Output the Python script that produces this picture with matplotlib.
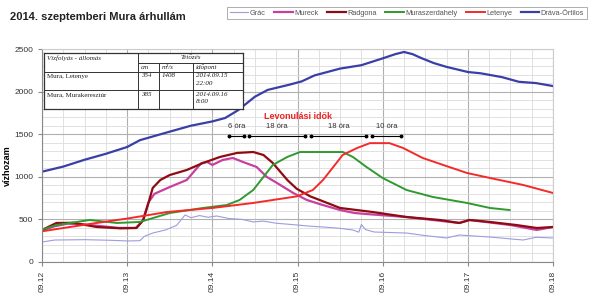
import matplotlib
matplotlib.use("Agg")
import matplotlib.pyplot as plt
from matplotlib.ticker import MultipleLocator

# ---------------- data (time in days from 2014.09.12 00:00) ----------------
grac_t = [0, 0.15, 0.5, 0.8, 1.0, 1.15, 1.2, 1.3, 1.45, 1.58, 1.68, 1.75, 1.85, 1.95, 2.05, 2.2,
          2.35, 2.48, 2.6, 2.75, 3.0, 3.15, 3.3, 3.5, 3.65, 3.72, 3.75, 3.8, 3.9, 4.28, 4.5, 4.75,
          4.9, 5.0, 5.26, 5.65, 5.8, 6.0]
grac_q = [235, 258, 262, 255, 247, 250, 300, 340, 376, 430, 552, 520, 545, 525, 540, 510,
          500, 470, 480, 455, 434, 420, 411, 395, 376, 350, 440, 380, 352, 340, 310, 282,
          317, 310, 293, 258, 290, 282]

mureck_t = [0, 0.15, 0.3, 0.5, 0.7, 0.9, 1.1, 1.18, 1.25, 1.32, 1.5, 1.7, 1.8, 1.87, 1.94, 2.0,
            2.12, 2.24, 2.36, 2.52, 2.64, 2.76, 2.95, 3.11, 3.26, 3.5, 3.67, 3.85, 4.28, 4.9,
            5.02, 5.5, 5.81, 6.0]
mureck_q = [370, 420, 450, 440, 420, 400, 400, 480, 700, 800, 880, 963, 1080, 1160, 1174, 1139,
            1197, 1221, 1174, 1115, 998, 927, 810, 728, 680, 610, 575, 560, 528, 458,
            493, 434, 376, 411]

radgona_t = [0, 0.17, 0.37, 0.64, 0.92, 1.11, 1.19, 1.25, 1.3, 1.39, 1.5, 1.7, 1.89, 2.09, 2.29,
             2.48, 2.6, 2.71, 2.88, 2.99, 3.15, 3.26, 3.5, 3.88, 4.28, 4.67, 4.9, 5.02, 5.26,
             5.57, 5.81, 6.0]
radgona_q = [376, 458, 460, 411, 395, 399, 493, 693, 869, 963, 1021, 1080, 1162, 1233, 1280,
             1291, 1256, 1162, 963, 860, 770, 728, 634, 587, 528, 493, 458, 493, 470,
             434, 399, 411]

mszd_t = [0, 0.17, 0.56, 0.88, 1.15, 1.5, 1.89, 2.17, 2.32, 2.48, 2.6, 2.71, 2.88, 3.03, 3.53,
          3.65, 3.81, 4.0, 4.28, 4.59, 4.99, 5.26, 5.49]
mszd_q = [380, 434, 493, 458, 470, 575, 634, 669, 728, 845, 998, 1139, 1233, 1291, 1291,
          1233, 1115, 986, 845, 763, 693, 634, 610]

letenye_t = [0, 0.25, 0.64, 1.0, 1.47, 2.0, 2.48, 2.99, 3.18, 3.3, 3.42, 3.53, 3.7, 3.85, 4.08,
             4.24, 4.47, 4.71, 4.99, 5.26, 5.65, 6.0]
letenye_q = [360, 399, 458, 510, 587, 634, 693, 770, 845, 963, 1115, 1256, 1338, 1395, 1395,
             1338, 1221, 1139, 1045, 986, 904, 810]

drava_t = [0, 0.25, 0.5, 0.75, 1.0, 1.15, 1.5, 1.75, 2.0, 2.15, 2.3, 2.5, 2.65, 2.9, 3.05, 3.2,
           3.5, 3.75, 4.0, 4.15, 4.25, 4.35, 4.45, 4.6, 4.75, 5.0, 5.15, 5.4, 5.6, 5.8, 6.0]
drava_q = [1060, 1120, 1200, 1270, 1350, 1430, 1530, 1600, 1650, 1690, 1780, 1940, 2020, 2080,
           2120, 2190, 2270, 2310, 2390, 2440, 2465, 2440, 2395, 2335, 2290, 2230, 2215, 2170,
           2115, 2100, 2065]

series_names = ["Grác", "Mureck", "Radgona", "Muraszerdahely", "Letenye", "Dráva-Örtilos"]
day_ticks = [0, 1, 2, 3, 4, 5, 6]
day_labels = ["09.12", "09.13", "09.14", "09.15", "09.16", "09.17", "09.18"]

# travel-time markers (days) and labels
travel_bounds = [(2.19, 2.375), (2.433, 3.09), (3.153, 3.81), (3.876, 4.214)]
travel_labels = ["6 óra", "18 óra", "18 óra", "10 óra"]
travel_level = 1480

table_rows = [
    ["Vízfolyás - állomás", "Tetőzés", "", ""],
    ["", "cm", "m³/s", "időpont"],
    ["Mura, Letenye", "354", "1408", "2014.09.15\n22:00"],
    ["Mura, Murakeresztúr", "385", "", "2014.09.16\n8:00"],
]

# ---------------- figure ----------------
plt.rcParams['font.family'] = ['Liberation Sans', 'DejaVu Sans']
W, H = 597, 296
fig = plt.figure(figsize=(W / 100, H / 100), dpi=100)
ax = fig.add_axes([42 / W, 1 - 262 / H, (553 - 42) / W, (262 - 49) / H])

colors = ["#9c9ce0", "#c8409f", "#8e0b12", "#2f9a2f", "#f42a2a", "#3a3fa8"]
widths = [0.8, 1.6, 1.6, 1.4, 1.4, 1.6]
data = [(grac_t, grac_q), (mureck_t, mureck_q), (radgona_t, radgona_q),
        (mszd_t, mszd_q), (letenye_t, letenye_q), (drava_t, drava_q)]
for (t, q), name, c, lw in zip(data, series_names, colors, widths):
    ax.plot(t, q, color=c, lw=lw, label=name)

ax.set_xlim(0, 6)
ax.set_ylim(0, 2500)
ax.set_xticks(day_ticks)
ax.set_xticklabels(day_labels, rotation=90, fontsize=6, color="#333333")
ax.xaxis.set_minor_locator(MultipleLocator(0.25))
ax.yaxis.set_major_locator(MultipleLocator(500))
ax.yaxis.set_minor_locator(MultipleLocator(100))
ax.tick_params(axis='y', labelsize=6, labelcolor="#333333", length=3, color="#888888")
ax.tick_params(axis='x', length=3, color="#888888")
ax.tick_params(which='minor', length=0)
ax.grid(which='major', color="#b0b0b0", lw=0.8)
ax.grid(which='minor', color="#dcdcdc", lw=0.6)
ax.set_axisbelow(True)
for s in ['top', 'right']:
    ax.spines[s].set_color("#cccccc")
    ax.spines[s].set_linewidth(0.8)
for s in ['left', 'bottom']:
    ax.spines[s].set_color("#888888")
    ax.spines[s].set_linewidth(0.8)

ax.set_ylabel("vízhozam", fontsize=6.5, fontweight='bold')
ax.yaxis.set_label_coords(-0.058, 0.45)

# travel-time annotation
ax.text(3.0, 1705, "Levonulási idők", color="#ee2222", fontsize=6.5, fontweight='bold',
        ha='center', va='center')
for (a, b), lab in zip(travel_bounds, travel_labels):
    ax.plot([a, b], [travel_level, travel_level], color="black", lw=0.8,
            marker='o', markersize=1.8)
    ax.text((a + b) / 2, travel_level + 115, lab, fontsize=5.5, color="#333333",
            ha='center', va='center')

# title
fig.text(10 / W, 1 - 17 / H, "2014. szeptemberi Mura árhullám", fontsize=8,
         fontweight='bold', color="#222222", va='center', ha='left')

# legend
leg = fig.legend(*ax.get_legend_handles_labels(), loc='upper left',
                 bbox_to_anchor=(227 / W, 1 - 7 / H), ncol=6, fontsize=5.3,
                 frameon=True, fancybox=False, handlelength=2.5, handletextpad=0.2,
                 columnspacing=1.2, borderpad=0.35, borderaxespad=0.0,
                 labelcolor="#555555")
leg.get_frame().set_edgecolor("#999999")
leg.get_frame().set_linewidth(0.7)

# inset table
tx0, ty0, tx1, ty1 = 44, 53, 243, 109
tax = fig.add_axes([tx0 / W, 1 - ty1 / H, (tx1 - tx0) / W, (ty1 - ty0) / H])
tax.set_xlim(tx0, tx1)
tax.set_ylim(ty1, ty0)
tax.set_facecolor("white")
for s in tax.spines.values():
    s.set_color("#333333")
    s.set_linewidth(0.9)
tax.set_xticks([])
tax.set_yticks([])
col_x = [tx0, 138, 159, 193, tx1]
row_y = [ty0, 63, 72, 90, ty1]
lk = dict(color="#333333", lw=0.7)
tax.plot([col_x[1], tx1], [row_y[1]] * 2, **lk)
tax.plot([tx0, tx1], [row_y[2]] * 2, **lk)
tax.plot([tx0, tx1], [row_y[3]] * 2, **lk)
tax.plot([col_x[1]] * 2, [ty0, ty1], **lk)
tax.plot([col_x[2]] * 2, [row_y[1], ty1], **lk)
tax.plot([col_x[3]] * 2, [row_y[1], ty1], **lk)
tf = dict(family=['Liberation Serif', 'DejaVu Serif'], fontsize=5, color="#222222")
tax.text(tx0 + 3, (row_y[0] + row_y[1]) / 2, table_rows[0][0], style='italic', va='center', **tf)
tax.text((col_x[1] + tx1) / 2, (row_y[0] + row_y[1]) / 2, table_rows[0][1], style='italic',
         va='center', ha='center', **tf)
for j in (1, 2, 3):
    tax.text(col_x[j] + 3, (row_y[1] + row_y[2]) / 2, table_rows[1][j], style='italic',
             va='center', **tf)
for i in (2, 3):
    tax.text(tx0 + 3, row_y[i] + 4.5, table_rows[i][0], va='center', **tf)
    for j in (1, 2, 3):
        tax.text(col_x[j] + 3, row_y[i] + 1.5, table_rows[i][j], style='italic',
                 va='top', linespacing=1.6, **tf)

fig.savefig("out.png", dpi=100)
